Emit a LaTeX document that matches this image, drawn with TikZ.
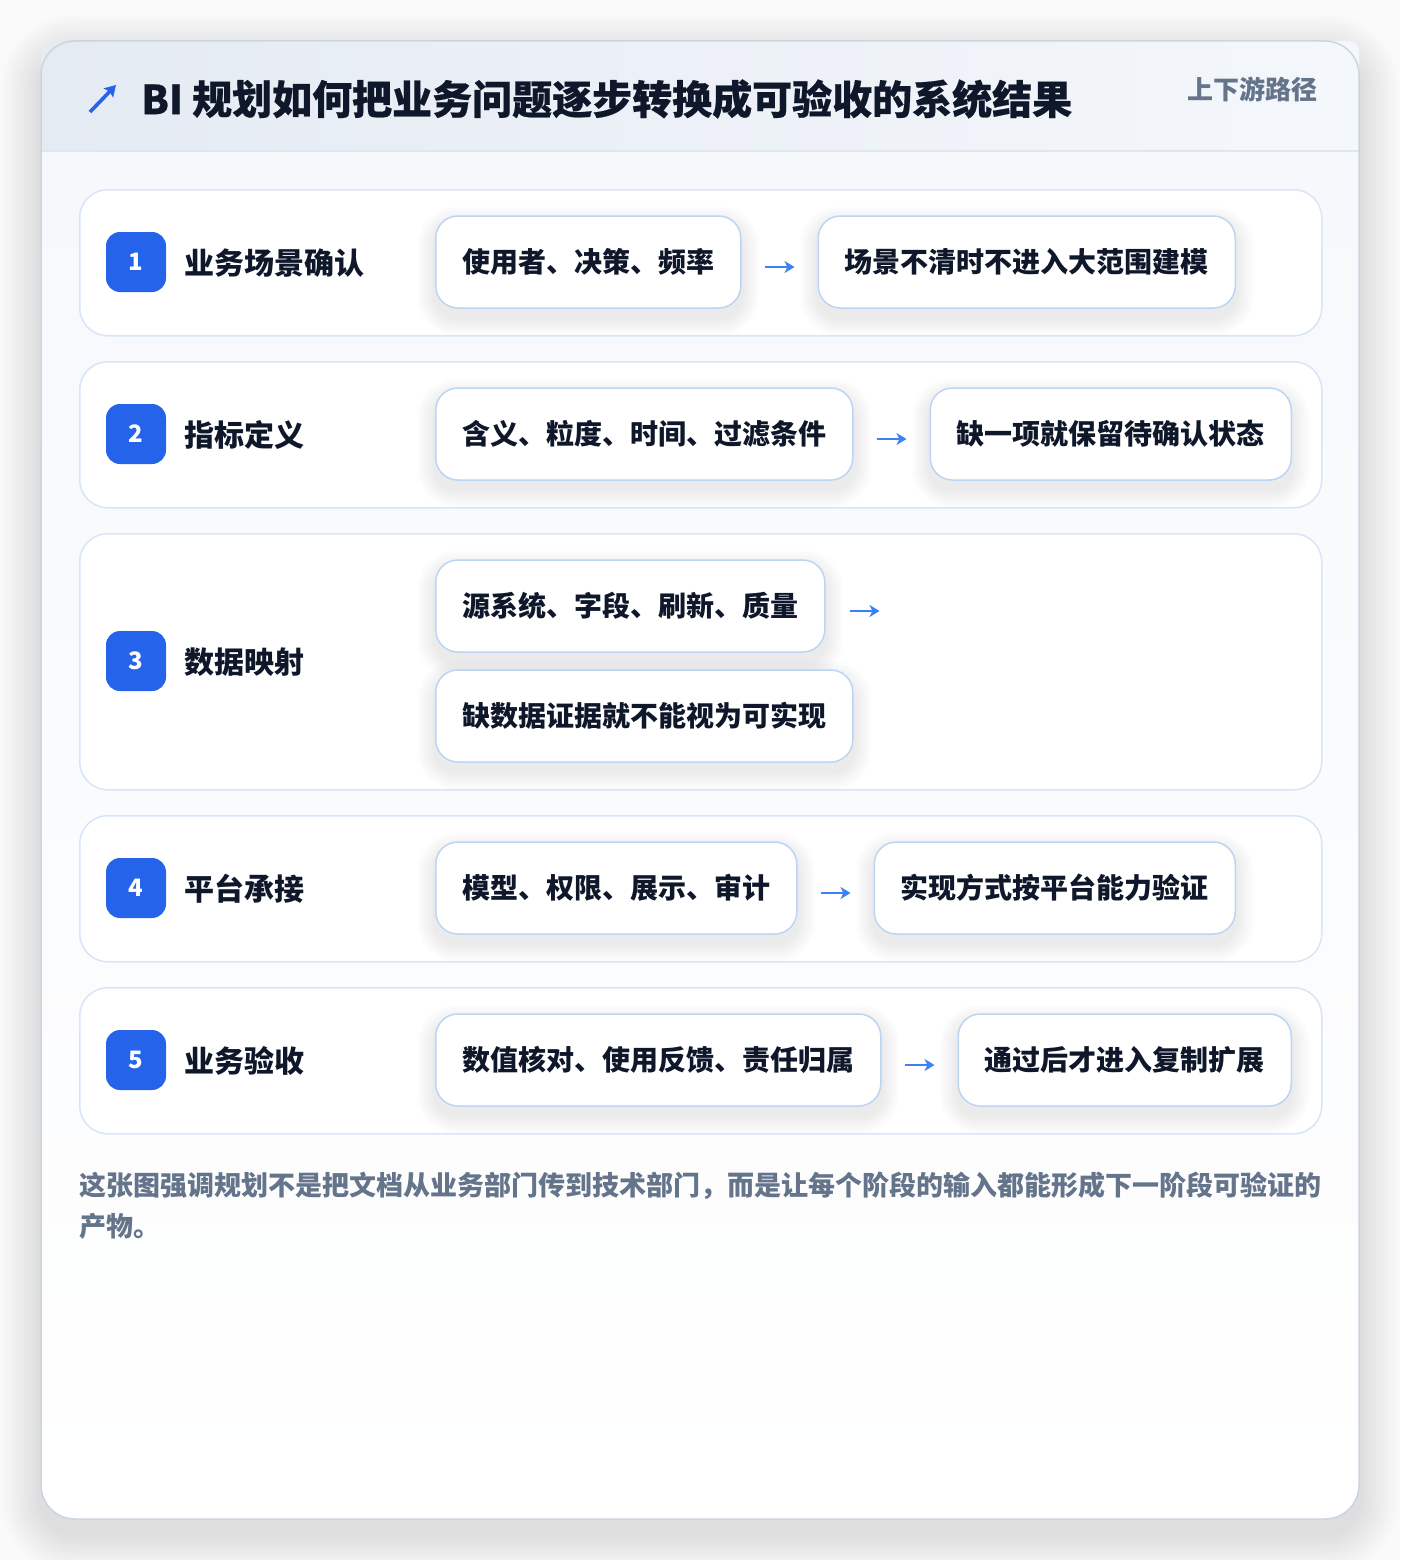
\documentclass[tikz,border=0pt]{standalone}
\usepackage{fontspec}
\setmainfont{Noto Sans CJK SC}
\newfontfamily\titlefont{Noto Sans CJK SC}[BoldFeatures={FakeBold=0.5}]
\usetikzlibrary{calc,positioning,arrows.meta}
\pgfdeclarelayer{backlayer}
\pgfdeclarelayer{shadowlayer}
\pgfsetlayers{backlayer,shadowlayer,main}
\definecolor{pagebg}{HTML}{FAFAFB}
\definecolor{cardline}{HTML}{CBD5E1}
\definecolor{headL}{HTML}{E5EBF3}
\definecolor{headR}{HTML}{F4F7FB}
\definecolor{divline}{HTML}{DCE7F5}
\definecolor{bodytop}{HTML}{F6F8FB}
\definecolor{rowline}{HTML}{D8E5F6}
\definecolor{boxline}{HTML}{BCD5F3}
\definecolor{badgeblue}{HTML}{2563EB}
\definecolor{ink}{HTML}{0F172A}
\definecolor{muted}{HTML}{64748B}
\definecolor{arrowblue}{HTML}{3B82F6}
\tikzset{
  rowcard/.style={draw=rowline, line width=1.5pt, fill=white, rounded corners=28pt, inner sep=0pt},
  badge/.style={fill=badgeblue, rounded corners=14pt, minimum width=60pt, minimum height=60pt,
    inner sep=0pt, text=white, font=\fontsize{24}{28}\selectfont\bfseries},
  rowlabel/.style={anchor=west, inner sep=0pt, text=ink, font=\fontsize{30}{36}\selectfont\bfseries},
  stepbox/.style={draw=boxline, line width=1.5pt, fill=white, rounded corners=22pt,
    minimum height=92pt, inner xsep=26.5pt, inner ysep=0pt, text=ink,
    font=\fontsize{28}{34}\selectfont\bfseries},
  flowline/.style={draw=arrowblue, line width=2.6pt, -{Stealth[length=10pt,width=12pt,inset=3pt]}},
}
% soft shadow: #1 node, #2 spread, #3 downward offset, #4 base radius, #5 layer opacity
\newcommand\softshadow[5]{%
  \begin{pgfonlayer}{shadowlayer}
  \foreach \k in {1,...,10}{%
    \pgfmathsetmacro\sp{#2*\k/10}%
    \pgfmathsetmacro\rr{#4+\sp}%
    \fill[black, opacity=#5, rounded corners=\rr pt]
      ($(#1.south west)+(-\sp,\sp+#3)$) rectangle ($(#1.north east)+(\sp,-\sp+#3)$);
  }
  \end{pgfonlayer}}
\begin{document}
\begin{tikzpicture}[x=1pt,y=-1pt]
\useasboundingbox (0,0) rectangle (1400,1560);
\begin{pgfonlayer}{backlayer}
\fill[pagebg] (0,0) rectangle (1400,1560);
% outer card shadow
\foreach \k in {1,...,14}{%
  \pgfmathsetmacro\sp{40*\k/14}%
  \pgfmathsetmacro\rr{34+\sp}%
  \fill[black, opacity=0.006, rounded corners=\rr pt] (41-\sp,41-\sp+14) rectangle (1359+\sp,1519+\sp+14);
}
\end{pgfonlayer}
% outer card
\begin{pgfonlayer}{backlayer}
\node[draw=none, fill=white, rounded corners=34pt, minimum width=1318pt, minimum height=1478pt, inner sep=0pt] (card) at (700,780) {};
\begin{scope}
  \clip[rounded corners=34pt] (41,41) rectangle (1359,1519);
  \shade[top color=bodytop, bottom color=white] (41,151) rectangle (1359,1519);
\end{scope}
\begin{scope}
  \clip[rounded corners=10pt] (41,41) rectangle (1359,200);
  \shade[left color=headL, right color=headR] (41,41) rectangle (1359,151);
\end{scope}
\draw[divline, line width=2pt] (41,151) -- (1359,151);
\draw[cardline, line width=1.5pt, rounded corners=34pt] (41,41) rectangle (1359,1519);
% row cards
\node[rowcard, anchor=north west, minimum width=1242pt, minimum height=146pt] (row1) at (79,189) {};
\node[rowcard, anchor=north west, minimum width=1242pt, minimum height=146pt] (row2) at (79,361) {};
\node[rowcard, anchor=north west, minimum width=1242pt, minimum height=256pt] (row3) at (79,533) {};
\node[rowcard, anchor=north west, minimum width=1242pt, minimum height=146pt] (row4) at (79,815) {};
\node[rowcard, anchor=north west, minimum width=1242pt, minimum height=146pt] (row5) at (79,987) {};
\end{pgfonlayer}
% header
\coordinate (icons) at (90,112);
\coordinate (icone) at (116,85);
\draw[draw=badgeblue, line width=3.6pt, -{Stealth[length=11pt,width=13pt,inset=2pt]}] (icons) -- (icone);
\node[anchor=west, inner sep=0pt, text=ink, font=\titlefont\fontsize{40}{46}\selectfont\bfseries] (title) at (141,99) {BI 规划如何把业务问题逐步转换成可验收的系统结果};
\node[anchor=east, inner sep=0pt, text=muted, font=\fontsize{26}{30}\selectfont\bfseries] (tag) at (1318,89) {上下游路径};
% badges and labels
\node[badge] (b1) at (136,262) {1};
\node[rowlabel] (l1) at (184,263) {业务场景确认};
\node[badge] (b2) at (136,434) {2};
\node[rowlabel] (l2) at (184,435) {指标定义};
\node[badge] (b3) at (136,661) {3};
\node[rowlabel] (l3) at (184,662) {数据映射};
\node[badge] (b4) at (136,888) {4};
\node[rowlabel] (l4) at (184,889) {平台承接};
\node[badge] (b5) at (136,1060) {5};
\node[rowlabel] (l5) at (184,1061) {业务验收};
% row 1
\node[stepbox, anchor=west] (s1a) at (435,262) {使用者、决策、频率};
\node[stepbox, right=76pt of s1a] (s1b) {场景不清时不进入大范围建模};
% row 2
\node[stepbox, anchor=west] (s2a) at (435,434) {含义、粒度、时间、过滤条件};
\node[stepbox, right=76pt of s2a] (s2b) {缺一项就保留待确认状态};
% row 3
\node[stepbox, anchor=west] (s3a) at (435,606) {源系统、字段、刷新、质量};
\node[stepbox, anchor=west] (s3b) at (435,716) {缺数据证据就不能视为可实现};
% row 4
\node[stepbox, anchor=west] (s4a) at (435,888) {模型、权限、展示、审计};
\node[stepbox, right=76pt of s4a] (s4b) {实现方式按平台能力验证};
% row 5
\node[stepbox, anchor=west] (s5a) at (435,1060) {数值核对、使用反馈、责任归属};
\node[stepbox, right=76pt of s5a] (s5b) {通过后才进入复制扩展};
% shadows of step boxes
\foreach \n in {s1a,s1b,s2a,s2b,s3a,s3b,s4a,s4b,s5a,s5b}{\softshadow{\n}{18}{9}{22}{0.007}}
% arrows
\coordinate (a1s) at ($(s1a.east)!0.5!(s1b.west)+(-15,5)$);
\coordinate (a1e) at ($(s1a.east)!0.5!(s1b.west)+(15,5)$);
\draw[flowline] (a1s) -- (a1e);
\coordinate (a2s) at ($(s2a.east)!0.5!(s2b.west)+(-15,5)$);
\coordinate (a2e) at ($(s2a.east)!0.5!(s2b.west)+(15,5)$);
\draw[flowline] (a2s) -- (a2e);
\coordinate (a3s) at ($(s3a.east)+(24,5)$);
\coordinate (a3e) at ($(s3a.east)+(54,5)$);
\draw[flowline] (a3s) -- (a3e);
\coordinate (a4s) at ($(s4a.east)!0.5!(s4b.west)+(-15,5)$);
\coordinate (a4e) at ($(s4a.east)!0.5!(s4b.west)+(15,5)$);
\draw[flowline] (a4s) -- (a4e);
\coordinate (a5s) at ($(s5a.east)!0.5!(s5b.west)+(-15,5)$);
\coordinate (a5e) at ($(s5a.east)!0.5!(s5b.west)+(15,5)$);
\draw[flowline] (a5s) -- (a5e);
% footer
\node[anchor=north west, inner sep=0pt, align=left, text=muted, font=\fontsize{27}{41}\selectfont\bfseries] (note) at (79,1172)
  {这张图强调规划不是把文档从业务部门传到技术部门，而是让每个阶段的输入都能形成下一阶段可验证的\\产物。};
\end{tikzpicture}
\end{document}
